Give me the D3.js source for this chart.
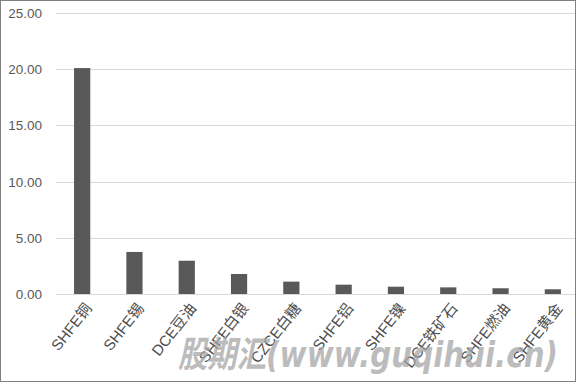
<!DOCTYPE html>
<html>
<head>
<meta charset="utf-8">
<script src="https://cdn.jsdelivr.net/npm/d3@7"></script>
<style>
body { margin: 0; background: #fff; }
svg { display: block; }
</style>
</head>
<body>
<svg id="chart" width="577" height="384"></svg>
<script>
var categories = ["SHFE铜", "SHFE锡", "DCE豆油", "SHFE白银", "CZCE白糖", "SHFE铝", "SHFE镍", "DCE铁矿石", "SHFE燃油", "SHFE黄金"];
var values = [20.1, 3.74, 2.96, 1.78, 1.1, 0.83, 0.65, 0.59, 0.51, 0.42];
var yTicks = [0, 5, 10, 15, 20, 25];

var margin = {top: 13, right: 2, bottom: 90, left: 56};
var fontFamily = "'Liberation Sans', 'Noto Sans CJK SC', sans-serif";

var svg = d3.select('#chart');

var x = d3.scaleBand()
	.domain(categories)
	.range([margin.left, 579])
	.paddingInner(0.69)
	.paddingOuter(0.345);

var y = d3.scaleLinear()
	.domain([0, 25])
	.range([294, margin.top]);

// grid lines
svg.append('g')
	.selectAll('line')
	.data(yTicks)
	.enter().append('line')
	.attr('x1', margin.left)
	.attr('x2', 575)
	.attr('y1', d => Math.round(y(d)) + 0.5)
	.attr('y2', d => Math.round(y(d)) + 0.5)
	.attr('stroke', '#d9d9d9')
	.attr('stroke-width', 1);

// y labels
svg.append('g')
	.selectAll('text')
	.data(yTicks)
	.enter().append('text')
	.attr('x', 42)
	.attr('y', d => y(d) + 5)
	.attr('text-anchor', 'end')
	.attr('font-family', fontFamily)
	.attr('font-size', '13.5px')
	.attr('fill', '#595959')
	.text(d => d.toFixed(2));

// bars
svg.append('g')
	.selectAll('rect')
	.data(values)
	.enter().append('rect')
	.attr('x', (d, i) => x(categories[i]))
	.attr('y', d => y(d))
	.attr('width', x.bandwidth())
	.attr('height', d => y(0) - y(d))
	.attr('fill', '#595959');

// x labels
svg.append('g')
	.selectAll('text')
	.data(categories)
	.enter().append('text')
	.attr('transform', d => 'translate(' + (x(d) + x.bandwidth() / 2 + 2) + ',' + 302 + ') rotate(-52)')
	.attr('text-anchor', 'end')
	.attr('dy', '0.7em')
	.attr('font-family', fontFamily)
	.attr('font-size', '15px')
	.attr('fill', '#4d4d4d')
	.text(d => d);

// watermark
svg.append('text')
	.attr('x', 178)
	.attr('y', 367)
	.attr('font-family', "'DejaVu Sans', 'Noto Sans CJK SC', sans-serif")
	.attr('font-size', '36px')
	.attr('font-weight', 'bold')
	.attr('font-style', 'italic')
	.attr('textLength', 380)
	.attr('lengthAdjust', 'spacingAndGlyphs')
	.attr('fill', '#a6a6a6')
	.attr('fill-opacity', 0.75)
	.text('股期汇(www.guqihui.cn)');

// frame
svg.append('rect')
	.attr('x', 0.5)
	.attr('y', 0.5)
	.attr('width', 575)
	.attr('height', 381)
	.attr('fill', 'none')
	.attr('stroke', '#7f7f7f')
	.attr('stroke-width', 1);
</script>
</body>
</html>
